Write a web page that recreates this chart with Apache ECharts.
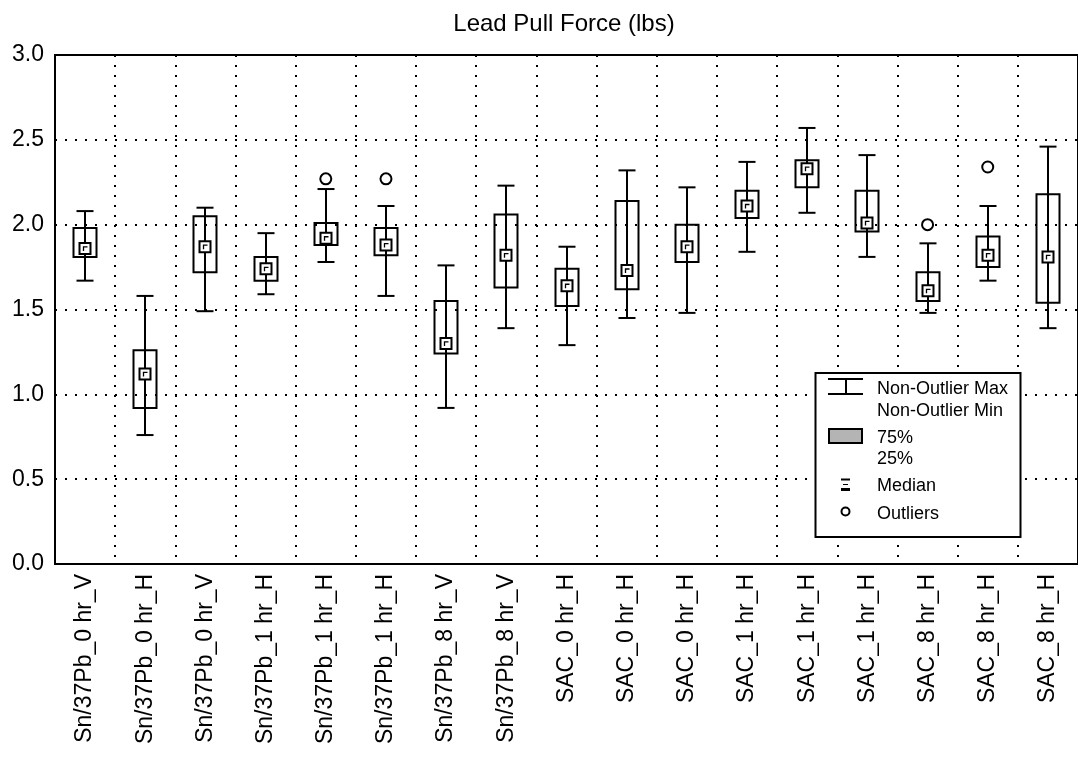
<!DOCTYPE html>
<html>
<head>
<meta charset="utf-8">
<script src="https://cdn.jsdelivr.net/npm/echarts@6/dist/echarts.min.js"></script>
<style>
html,body{margin:0;padding:0;background:#fff;}
#chart{width:1078px;height:757px;}
</style>
</head>
<body>
<div id="chart"></div>
<script>
const categories = ["Sn/37Pb_0 hr_V","Sn/37Pb_0 hr_H","Sn/37Pb_0 hr_V","Sn/37Pb_1 hr_H","Sn/37Pb_1 hr_H","Sn/37Pb_1 hr_H","Sn/37Pb_8 hr_V","Sn/37Pb_8 hr_V","SAC_0 hr_H","SAC_0 hr_H","SAC_0 hr_H","SAC_1 hr_H","SAC_1 hr_H","SAC_1 hr_H","SAC_8 hr_H","SAC_8 hr_H","SAC_8 hr_H"];
const whiskerMax = [2.08, 1.58, 2.10, 1.95, 2.21, 2.11, 1.76, 2.23, 1.87, 2.32, 2.22, 2.37, 2.57, 2.41, 1.89, 2.11, 2.46];
const q75 =        [1.98, 1.26, 2.05, 1.81, 2.01, 1.98, 1.55, 2.06, 1.74, 2.14, 2.00, 2.20, 2.38, 2.20, 1.72, 1.93, 2.18];
const medians =    [1.86, 1.12, 1.87, 1.74, 1.92, 1.88, 1.30, 1.82, 1.64, 1.73, 1.87, 2.11, 2.33, 2.01, 1.61, 1.82, 1.81];
const q25 =        [1.81, 0.92, 1.72, 1.67, 1.88, 1.82, 1.24, 1.63, 1.52, 1.62, 1.78, 2.04, 2.22, 1.96, 1.55, 1.75, 1.54];
const whiskerMin = [1.67, 0.76, 1.49, 1.59, 1.78, 1.58, 0.92, 1.39, 1.29, 1.45, 1.48, 1.84, 2.07, 1.81, 1.48, 1.67, 1.39];
const outlierIdx = [4, 5, 14, 15];
const outlierVal = [2.27, 2.27, 2.00, 2.34];
const yTicks = [0, 0.5, 1.0, 1.5, 2.0, 2.5, 3.0];

const FONT = 'Liberation Sans, Arial, sans-serif';
const boxData = categories.map((c, i) => [i, whiskerMin[i], q25[i], medians[i], q75[i], whiskerMax[i]]);
const outData = outlierIdx.map((k, i) => [k, outlierVal[i]]);

function renderBox(params, api) {
  const i = api.value(0);
  const pMin = api.coord([i, api.value(1)]);
  const pQ1 = api.coord([i, api.value(2)]);
  const pMed = api.coord([i, api.value(3)]);
  const pQ3 = api.coord([i, api.value(4)]);
  const pMax = api.coord([i, api.value(5)]);
  const cx = Math.round(pMin[0]);
  const bw = 23, cw = 17, ms = 11;
  const st = {stroke: '#000', lineWidth: 2, fill: null};
  const my = pMed[1];
  return {
    type: 'group',
    children: [
      {type: 'line', shape: {x1: cx, y1: pMin[1], x2: cx, y2: pMax[1]}, style: st},
      {type: 'line', shape: {x1: cx - cw / 2, y1: pMin[1], x2: cx + cw / 2, y2: pMin[1]}, style: st},
      {type: 'line', shape: {x1: cx - cw / 2, y1: pMax[1], x2: cx + cw / 2, y2: pMax[1]}, style: st},
      {type: 'rect', shape: {x: cx - bw / 2, y: pQ3[1], width: bw, height: pQ1[1] - pQ3[1]}, style: {stroke: '#000', lineWidth: 2, fill: 'rgba(0,0,0,0)'}},
      {type: 'rect', shape: {x: cx - ms / 2, y: my - ms / 2, width: ms, height: ms}, style: {stroke: '#000', lineWidth: 2, fill: '#fff'}},
      {type: 'polyline', shape: {points: [[cx - 1.5, my + 2.5], [cx - 1.5, my - 1.5], [cx + 2.5, my - 1.5]]}, style: {stroke: '#000', lineWidth: 1.3, fill: null}}
    ]
  };
}

const chart = echarts.init(document.getElementById('chart'), null, {renderer: 'canvas'});
const lx = 815, ly = 373;
chart.setOption({
  animation: false,
  backgroundColor: '#fff',
  textStyle: {fontFamily: FONT, color: '#000'},
  title: {
    text: 'Lead Pull Force (lbs)',
    left: 559, top: 7, textAlign: 'center',
    textStyle: {fontFamily: FONT, fontSize: 24, fontWeight: 'normal', color: '#000'}
  },
  grid: {left: 55, top: 55, width: 1035, height: 509, show: true, borderColor: '#000', borderWidth: 2, backgroundColor: 'rgba(0,0,0,0)'},
  xAxis: {
    type: 'category',
    data: categories,
    boundaryGap: true,
    axisLine: {show: true, lineStyle: {color: '#000', width: 2}},
    axisTick: {show: false},
    axisLabel: {rotate: 90, interval: 0, fontSize: 23, color: '#000', fontFamily: FONT, margin: 10},
    splitLine: {show: true, interval: 0, lineStyle: {color: '#000', width: 2, type: [2, 8]}}
  },
  yAxis: {
    type: 'value',
    min: yTicks[0], max: yTicks[yTicks.length - 1], interval: 0.5,
    axisLine: {show: true, lineStyle: {color: '#000', width: 2}},
    axisTick: {show: false},
    axisLabel: {fontSize: 23, color: '#000', fontFamily: FONT, margin: 11, padding: [6, 0, 0, 0], formatter: v => v.toFixed(1)},
    splitLine: {show: true, lineStyle: {color: '#000', width: 2, type: [2, 8]}}
  },
  series: [
    {
      type: 'custom',
      name: 'box',
      renderItem: renderBox,
      data: boxData,
      encode: {x: 0, y: [1, 2, 3, 4, 5]},
      z: 5
    },
    {
      type: 'scatter',
      name: 'Outliers',
      data: outData,
      symbol: 'circle',
      symbolSize: 11,
      itemStyle: {color: '#fff', borderColor: '#000', borderWidth: 2, opacity: 1},
      z: 6
    }
  ],
  graphic: [
    {type: 'rect', z: 100, shape: {x: lx + 0.5, y: ly, width: 205, height: 164}, style: {fill: '#fff', stroke: '#000', lineWidth: 2}},
    {type: 'line', z: 101, shape: {x1: 828, y1: 379, x2: 863, y2: 379}, style: {stroke: '#000', lineWidth: 2}},
    {type: 'line', z: 101, shape: {x1: 846, y1: 379, x2: 846, y2: 394}, style: {stroke: '#000', lineWidth: 2}},
    {type: 'line', z: 101, shape: {x1: 828, y1: 394, x2: 863, y2: 394}, style: {stroke: '#000', lineWidth: 2}},
    {type: 'rect', z: 101, shape: {x: 829, y: 429, width: 33, height: 14}, style: {fill: '#b4b4b4', stroke: '#000', lineWidth: 2}},
    {type: 'line', z: 101, shape: {x1: 841, y1: 479.5, x2: 850, y2: 479.5}, style: {stroke: '#000', lineWidth: 2}},
    {type: 'line', z: 101, shape: {x1: 843, y1: 484.5, x2: 848, y2: 484.5}, style: {stroke: '#000', lineWidth: 1}},
    {type: 'line', z: 101, shape: {x1: 841, y1: 489.5, x2: 850, y2: 489.5}, style: {stroke: '#000', lineWidth: 3}},
    {type: 'circle', z: 101, shape: {cx: 845.5, cy: 511.5, r: 4}, style: {fill: '#fff', stroke: '#000', lineWidth: 2}},
    {type: 'text', z: 101, x: 877, y: 389, style: {text: 'Non-Outlier Max', font: '18px ' + FONT, fill: '#000', verticalAlign: 'middle'}},
    {type: 'text', z: 101, x: 877, y: 411, style: {text: 'Non-Outlier Min', font: '18px ' + FONT, fill: '#000', verticalAlign: 'middle'}},
    {type: 'text', z: 101, x: 877, y: 438, style: {text: '75%', font: '18px ' + FONT, fill: '#000', verticalAlign: 'middle'}},
    {type: 'text', z: 101, x: 877, y: 459, style: {text: '25%', font: '18px ' + FONT, fill: '#000', verticalAlign: 'middle'}},
    {type: 'text', z: 101, x: 877, y: 486, style: {text: 'Median', font: '18px ' + FONT, fill: '#000', verticalAlign: 'middle'}},
    {type: 'text', z: 101, x: 877, y: 514, style: {text: 'Outliers', font: '18px ' + FONT, fill: '#000', verticalAlign: 'middle'}}
  ]
});
</script>
</body>
</html>
